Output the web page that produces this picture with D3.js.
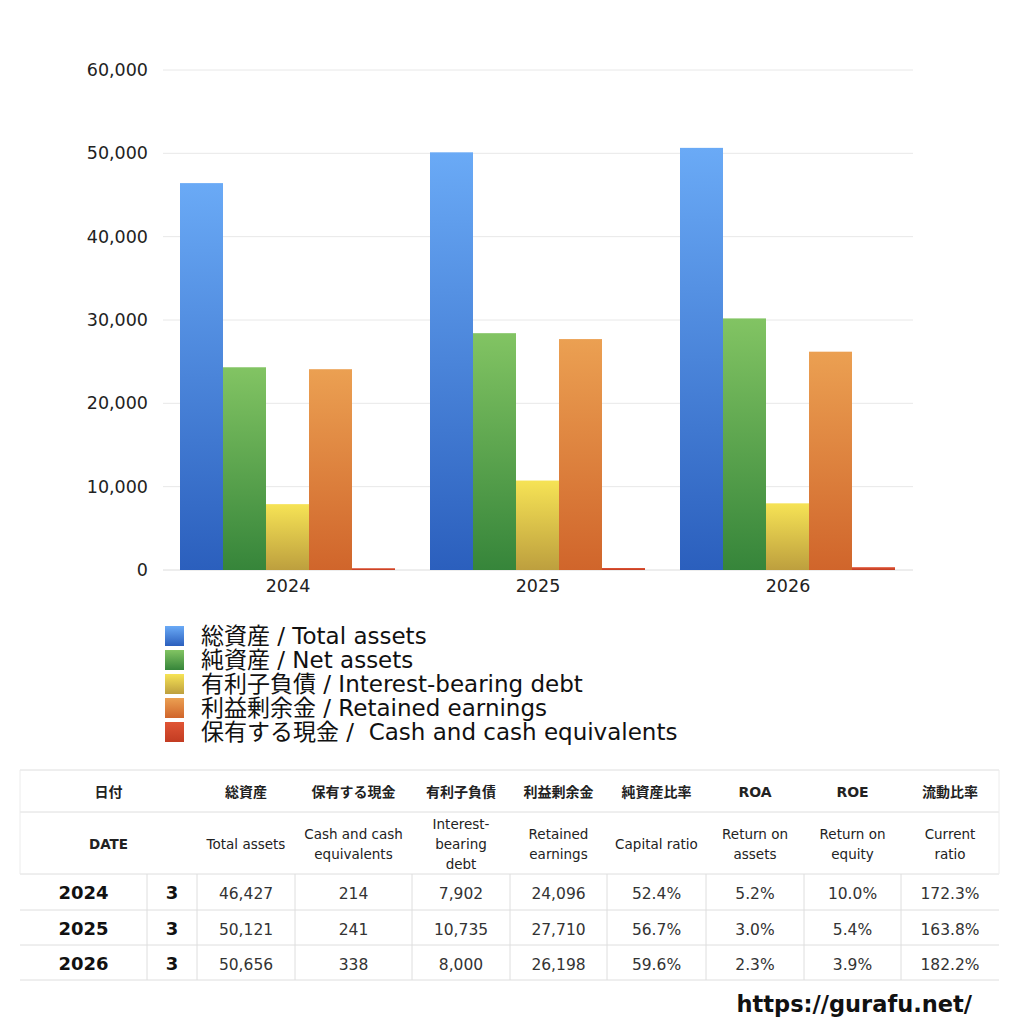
<!DOCTYPE html>
<html><head><meta charset="utf-8">
<script src="https://cdn.jsdelivr.net/npm/d3@7"></script>
<style>
html,body{margin:0;padding:0;background:#fff;}
svg{display:block;font-family:"DejaVu Sans","Noto Sans CJK JP",sans-serif;}
</style></head>
<body>
<svg id="c" width="1024" height="1024"></svg>
<script>
const years = ["2024","2025","2026"];
const months = ["3","3","3"];
const seriesKeys = ["total","net","debt","retained","cash"];
const seriesLabels = ["総資産 / Total assets","純資産 / Net assets","有利子負債 / Interest-bearing debt","利益剰余金 / Retained earnings","保有する現金 /  Cash and cash equivalents"];
const totalAssets = [46427, 50121, 50656];
const netAssets = [24328, 28419, 30191];
const interestDebt = [7902, 10735, 8000];
const retainedEarnings = [24096, 27710, 26198];
const cashEq = [214, 241, 338];
const yTicks = [0,10000,20000,30000,40000,50000,60000];

const headerJP = ["日付","総資産","保有する現金","有利子負債","利益剰余金","純資産比率","ROA","ROE","流動比率"];
const headerEN = ["DATE","Total assets","Cash and cash\nequivalents","Interest-\nbearing\ndebt","Retained\nearnings","Capital ratio","Return on\nassets","Return on\nequity","Current\nratio"];
const capitalRatio = ["52.4%","56.7%","59.6%"];
const roa = ["5.2%","3.0%","2.3%"];
const roe = ["10.0%","5.4%","3.9%"];
const currentRatio = ["172.3%","163.8%","182.2%"];

const seriesValues = [totalAssets, netAssets, interestDebt, retainedEarnings, cashEq];
const grads = [["#6aaaf6","#2b5fbd"],["#82c463","#36853a"],["#f6e355","#bd9f3e"],["#eba052","#d0652b"],["#e05535","#c23c22"]];

const svg = d3.select("#c");
const defs = svg.append("defs");
grads.forEach((g,i)=>{
  const lg = defs.append("linearGradient").attr("id","g"+i).attr("x1",0).attr("y1",0).attr("x2",0).attr("y2",1);
  lg.append("stop").attr("offset","0%").attr("stop-color",g[0]);
  lg.append("stop").attr("offset","100%").attr("stop-color",g[1]);
});

const y = d3.scaleLinear().domain([0,60000]).range([570,70]);
const x0 = d3.scaleBand().domain(years).range([163,913]);
const x1 = d3.scaleBand().domain(seriesKeys).range([17,232]);

// gridlines
svg.append("g").selectAll("line").data(yTicks).join("line")
  .attr("x1",163).attr("x2",913).attr("y1",d=>y(d)).attr("y2",d=>y(d))
  .attr("stroke",d=>d===0?"#dcdcdc":"#e8e8e8").attr("stroke-width",1);

// y axis
const yAxis = d3.axisLeft(y).tickValues(yTicks).tickFormat(d3.format(",")).tickSize(0).tickPadding(0);
const ya = svg.append("g").attr("transform","translate(148,0)").call(yAxis);
ya.select(".domain").remove();
ya.selectAll("text").attr("font-size",17.5).attr("fill","#222").attr("font-family","'DejaVu Sans',sans-serif");

// x axis
const xAxis = d3.axisBottom(x0).tickSize(0).tickPadding(0);
const xa = svg.append("g").attr("transform","translate(0,580)").call(xAxis);
xa.select(".domain").remove();
xa.selectAll("text").attr("font-size",17.5).attr("fill","#222").attr("font-family","'DejaVu Sans',sans-serif");

// bars
const data = [];
years.forEach((yr,i)=>seriesKeys.forEach((k,j)=>data.push({yr,k,j,v:seriesValues[j][i]})));
svg.append("g").selectAll("rect").data(data).join("rect")
  .attr("x",d=>x0(d.yr)+x1(d.k)).attr("width",x1.bandwidth())
  .attr("y",d=>y(d.v)).attr("height",d=>y(0)-y(d.v))
  .attr("fill",d=>"url(#g"+d.j+")");

// legend
const lg = svg.append("g");
seriesLabels.forEach((s,i)=>{
  const cy = 636 + i*24;
  lg.append("rect").attr("x",165).attr("y",cy-10).attr("width",19).attr("height",20).attr("fill","url(#g"+i+")");
  lg.append("text").attr("x",201).attr("y",cy+8).attr("font-size",23).attr("fill","#111")
    .style("white-space","pre").text(s);
});

// table
const colX = [20,147,197,295,412,510,607,706,804,901,999];
const rowY = [770,812,874,910,945,980];
const t = svg.append("g");
rowY.forEach(ry=>t.append("line").attr("x1",20).attr("x2",999).attr("y1",ry).attr("y2",ry).attr("stroke","#dedede"));
t.append("line").attr("x1",20).attr("x2",20).attr("y1",770).attr("y2",874).attr("stroke","#ececec");
t.append("line").attr("x1",999).attr("x2",999).attr("y1",770).attr("y2",874).attr("stroke","#ececec");
colX.slice(1,10).forEach(cx=>t.append("line").attr("x1",cx).attr("x2",cx).attr("y1",874).attr("y2",980).attr("stroke","#dedede"));
const hCenters = [ (20+197)/2 ];
for(let c=2;c<10;c++) hCenters.push((colX[c]+colX[c+1])/2);
headerJP.forEach((h,i)=>{
  t.append("text").attr("x",hCenters[i]).attr("y",797).attr("text-anchor","middle")
    .attr("font-size",14).attr("font-weight","bold").attr("fill","#222").text(h);
});
headerEN.forEach((h,i)=>{
  const lines = h.split("\n");
  const lh = 20;
  const start = 849 - (lines.length-1)*lh/2;
  lines.forEach((l,k)=>{
    t.append("text").attr("x",hCenters[i]).attr("y",start+k*lh).attr("text-anchor","middle")
      .attr("font-size",13.5).attr("fill","#222").attr("font-weight",i===0?"bold":"normal").text(l);
  });
});
const fmt = d3.format(",");
years.forEach((yr,r)=>{
  const cy = (rowY[r+2]+rowY[r+3])/2 + 7;
  const vals = [yr, months[r], fmt(totalAssets[r]), fmt(cashEq[r]), fmt(interestDebt[r]), fmt(retainedEarnings[r]), capitalRatio[r], roa[r], roe[r], currentRatio[r]];
  vals.forEach((v,c)=>{
    t.append("text").attr("x",(colX[c]+colX[c+1])/2).attr("y",cy).attr("text-anchor","middle")
      .attr("font-size",c<2?18:15.5).attr("font-weight",c<2?"bold":"normal").attr("fill",c<2?"#111":"#333")
      .text(v);
  });
});

// watermark
svg.append("text").attr("x",972).attr("y",1012).attr("text-anchor","end")
  .attr("font-size",22.5).attr("font-weight","bold").attr("fill","#111")
  .text("https://gurafu.net/");
</script>
</body></html>
